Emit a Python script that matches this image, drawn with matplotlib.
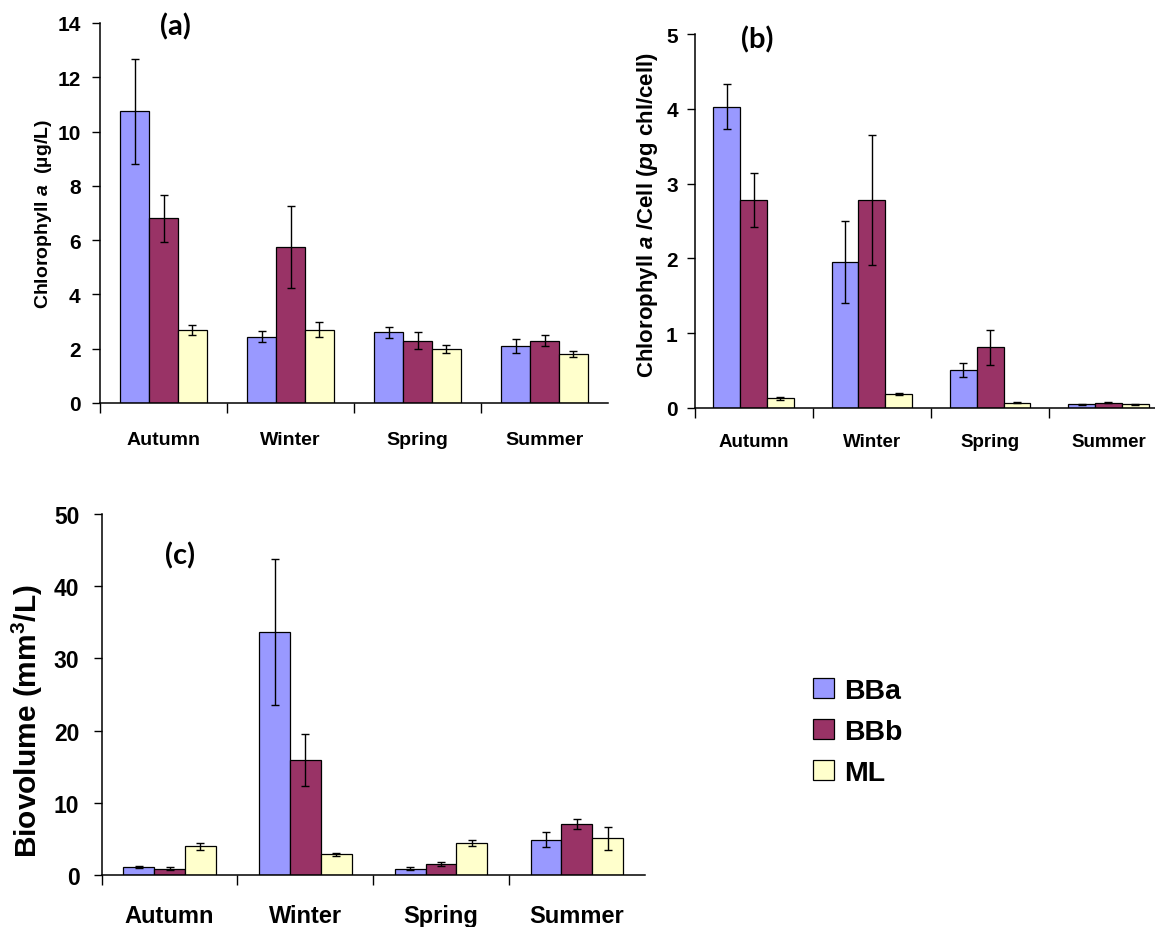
"""
Seasonal chlorophyll a, chlorophyll a per cell and biovolume
for the three sites (BBa, BBb, ML), drawn as grouped bars with error bars.
"""

import numpy as np
import matplotlib.pyplot as plt

plt.rcParams['font.family'] = ['Liberation Sans', 'DejaVu Sans']
plt.rcParams['font.weight'] = 'bold'
plt.rcParams['mathtext.fontset'] = 'custom'
plt.rcParams['mathtext.rm'] = 'Liberation Sans:bold'
plt.rcParams['mathtext.bf'] = 'Liberation Sans:bold'
plt.rcParams['mathtext.it'] = 'Liberation Sans:italic:bold'

seasons = ["Autumn", "Winter", "Spring", "Summer"]
sites = ["BBa", "BBb", "ML"]
colors = ["#9999FF", "#993366", "#FFFFCC"]

# (a) chlorophyll a, ug/L  (rows: BBa, BBb, ML)
chl_mean = [[10.75, 2.45, 2.6, 2.1],
            [6.8, 5.75, 2.3, 2.3],
            [2.7, 2.7, 2.0, 1.8]]
chl_err = [[1.93, 0.2, 0.2, 0.25],
           [0.88, 1.5, 0.3, 0.2],
           [0.18, 0.27, 0.15, 0.12]]

# (b) chlorophyll a per cell, pg chl/cell
cell_mean = [[4.03, 1.95, 0.51, 0.05],
             [2.78, 2.78, 0.81, 0.07],
             [0.13, 0.19, 0.07, 0.05]]
cell_err = [[0.3, 0.55, 0.095, 0.01],
            [0.36, 0.87, 0.23, 0.005],
            [0.02, 0.01, 0.005, 0.005]]

# (c) biovolume, mm3/L
bio_mean = [[1.1, 33.6, 0.9, 4.9],
            [0.9, 15.9, 1.5, 7.05],
            [3.95, 2.85, 4.4, 5.1]]
bio_err = [[0.15, 10.1, 0.15, 1.0],
           [0.2, 3.6, 0.25, 0.7],
           [0.5, 0.15, 0.45, 1.6]]

W, H = 1155, 928


def draw_panel(ax, means, errs, ymax, ystep, tick_size, cat_size, cat_pad, ypad):
    """Grouped bars in Excel style: ticks between categories, labels centred"""
    x = np.arange(len(seasons)) + 0.5
    w = 0.227
    bars = []
    for j, site in enumerate(sites):
        b = ax.bar(x + (j - 1) * w, means[j], w, yerr=errs[j], color=colors[j],
                   edgecolor='black', linewidth=0.9, capsize=3.2, label=site,
                   error_kw=dict(elinewidth=1, capthick=1, ecolor='black'), zorder=2)
        bars.append(b)

    ax.set_xlim(0, len(seasons))
    ax.set_ylim(0, ymax)
    ax.set_yticks(np.arange(0, ymax + ystep / 2, ystep))
    ax.set_xticks(np.arange(0, len(seasons)))
    ax.set_xticklabels([])
    ax.set_xticks(x, minor=True)
    ax.set_xticklabels(seasons, minor=True, fontsize=cat_size, fontweight='bold')
    ax.tick_params(axis='x', which='major', direction='out', length=7, width=1)
    ax.tick_params(axis='x', which='minor', length=0, pad=cat_pad)
    ax.tick_params(axis='y', direction='out', length=6, width=1, labelsize=tick_size, pad=ypad)
    for lab in ax.get_yticklabels():
        lab.set_fontweight('bold')

    for side in ['top', 'right']:
        ax.spines[side].set_visible(False)
    for side in ['left', 'bottom']:
        ax.spines[side].set_linewidth(1.1)
    return bars


fig = plt.figure(figsize=(W / 100, H / 100), dpi=100)

# axes placed in pixel units of the reference picture
ax_a = fig.add_axes([100 / W, 1 - 404 / H, 508 / W, 380 / H])
ax_b = fig.add_axes([694.5 / W, 1 - 409 / H, 473 / W, 374 / H])
ax_c = fig.add_axes([101.7 / W, 1 - 876 / H, 543 / W, 361 / H])

draw_panel(ax_a, chl_mean, chl_err, 14, 2, 15, 14, 20, 8)
draw_panel(ax_b, cell_mean, cell_err, 5, 1, 15, 13.5, 18, 6)
bars_c = draw_panel(ax_c, bio_mean, bio_err, 50, 10, 16.5, 17, 21, 10)

ax_a.set_ylabel(r"Chlorophyll $\mathit{a}$  (µg/L)", fontsize=14, fontweight='bold')
ax_a.yaxis.set_label_coords(-0.09, 0.5)
ax_b.set_ylabel(r"Chlorophyll $\mathit{a}$ /Cell ($\mathit{p}$g chl/cell)", fontsize=16,
                fontweight='bold')
ax_b.yaxis.set_label_coords(-0.073, 0.52)
ax_c.set_ylabel(r"Biovolume (mm$^{3}$/L)", fontsize=21.5, fontweight='bold')
ax_c.yaxis.set_label_coords(-0.104, 0.43)

letter_font = ['Lato', 'DejaVu Sans']
ax_a.text(0.149, 0.992, "(a)", transform=ax_a.transAxes, ha='center', va='center',
          fontsize=21, fontweight='bold', family=letter_font)
ax_b.text(0.132, 0.987, "(b)", transform=ax_b.transAxes, ha='center', va='center',
          fontsize=21, fontweight='bold', family=letter_font)
ax_c.text(0.144, 0.886, "(c)", transform=ax_c.transAxes, ha='center', va='center',
          fontsize=21, fontweight='bold', family=letter_font)

fig.legend(bars_c, sites, loc='upper left', bbox_to_anchor=(813 / W, 1 - 679 / H),
           frameon=False, prop={'size': 20.5, 'weight': 'bold'},
           handlelength=0.72, handleheight=0.72, handletextpad=0.36,
           labelspacing=0.52, borderpad=0, borderaxespad=0)

plt.savefig("out.png", dpi=100)
